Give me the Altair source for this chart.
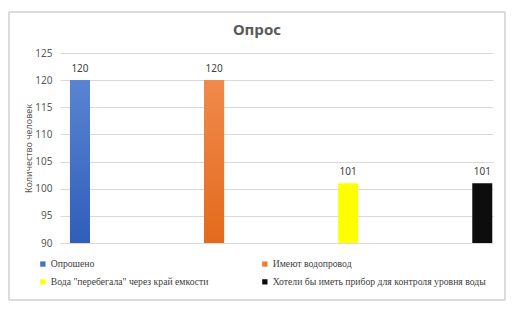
import altair as alt
import pandas as pd

categories = ["Опрошено", "Имеют водопровод", "Вода \"перебегала\" через край емкости",
              "Хотели бы иметь прибор для контроля уровня воды"]
values = [120, 120, 101, 101]
positions = [0, 1, 2, 3]
colors = ["#4472C4", "#ED7D31", "#FFFF00", "#0D0D0D"]
title_text = ["Опрос"]

df = pd.DataFrame({"cat": categories, "val": values, "idx": positions, "base": [90] * 4})

W, H = 433, 190
FONT = "Noto Sans"
SERIF = "Liberation Serif"

xs = alt.X("idx:Q", scale=alt.Scale(domain=[-0.149, 3.08], padding=0), axis=None)
ys = alt.Y("val:Q", scale=alt.Scale(domain=[90, 125], zero=False, nice=False, padding=0),
           axis=alt.Axis(values=[90, 95, 100, 105, 110, 115, 120, 125], grid=True,
                         gridColor="#D9D9D9", domain=False, ticks=False, tickSize=0,
                         labelPadding=8, labelFontSize=10, labelColor="#595959", labelFont=FONT,
                         title="Количество человек", titleFontSize=9, titleFontWeight="normal",
                         titleColor="#595959", titleFont=FONT, titlePadding=1))

frame = alt.Chart(df).mark_rect(fill="transparent", stroke="#D9D9D9", strokeWidth=1, clip=False).encode(
    x=alt.value(-51), x2=alt.value(445), y=alt.value(-41), y2=alt.value(247)
)

title = alt.Chart(pd.DataFrame({"t": title_text})).mark_text(
    fontSize=15, font=FONT, fontWeight="bold", color="#595959", clip=False
).encode(x=alt.value(197), y=alt.value(-23), text="t:N")

bars = alt.Chart(df).mark_bar(size=20).encode(
    x=xs, y=ys, y2="base:Q",
    color=alt.Color("cat:N", scale=alt.Scale(domain=categories, range=colors),
                    legend=alt.Legend(orient="none", legendX=-22, legendY=206, columns=2,
                                      direction="horizontal",
                                      columnPadding=51, rowPadding=7, title=None,
                                      symbolType="square", symbolSize=28, symbolStrokeWidth=0,
                                      labelFont=SERIF, labelFontSize=9.7,
                                      labelColor="#404040", labelOffset=3, labelLimit=400))
)

def grad(c_top, c_bot):
    return alt.Gradient(gradient="linear", x1=0, x2=0, y1=0, y2=1,
                        stops=[alt.GradientStop(color=c_top, offset=0),
                               alt.GradientStop(color=c_bot, offset=1)])

blue = alt.Chart(df).transform_filter(alt.datum.idx == 0).mark_bar(
    size=20, fill=grad("#5A84D2", "#2F5EBA")).encode(x=xs, y=ys, y2="base:Q")
orange = alt.Chart(df).transform_filter(alt.datum.idx == 1).mark_bar(
    size=20, fill=grad("#F08A4C", "#E36A1C")).encode(x=xs, y=ys, y2="base:Q")

labels = alt.Chart(df).mark_text(dy=-11, fontSize=10, color="#404040", font=FONT).encode(
    x=xs, y=ys, text="val:Q"
)

chart = alt.layer(frame, title, bars, blue, orange, labels).properties(
    width=W, height=H,
    autosize=alt.AutoSizeParams(type="none"),
    padding={"left": 52, "top": 45, "right": 30, "bottom": 60},
).configure_view(stroke=None)

chart.save("out.html", embed_options={"renderer": "svg", "actions": False})
